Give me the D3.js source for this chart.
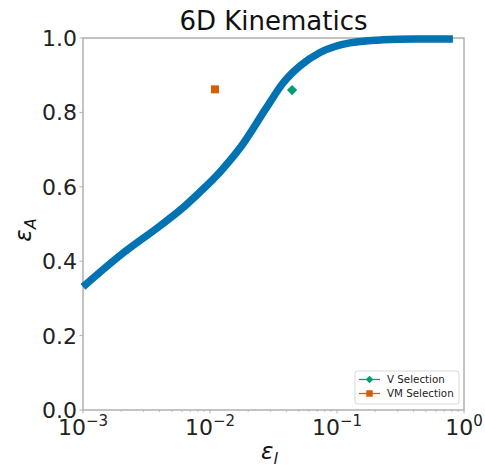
<!DOCTYPE html>
<html>
<head>
<meta charset="utf-8">
<script src="https://cdn.jsdelivr.net/npm/d3@7"></script>
<style>
  body { margin: 0; background: #fff; }
  svg { font-family: "DejaVu Sans", sans-serif; }
</style>
</head>
<body>
<svg id="chart" width="485" height="468"></svg>
<script>
// curve: false-positive rate (eps_l) vs efficiency (eps_A)
const curveX = [0.001, 0.00195, 0.00404, 0.00581, 0.00834, 0.0120,
                0.0172, 0.0281, 0.0376, 0.0512, 0.0735, 0.1265, 0.230, 0.398, 0.818];
const curveY = [0.331, 0.415, 0.495, 0.537, 0.586, 0.640,
                0.704, 0.815, 0.879, 0.925, 0.961, 0.987, 0.995, 0.997, 0.997];

const markerNames = ['V Selection', 'VM Selection'];
const markerX = [0.0443, 0.01094];
const markerY = [0.860, 0.862];
const markerColors = ['#029E73', '#D55E00'];

const yTicks = [0, 0.2, 0.4, 0.6, 0.8, 1.0];
const xTickExps = [-3, -2, -1, 0];

const svg = d3.select('#chart');
const pL = 83, pR = 464, pT = 38, pB = 410;

const x = d3.scaleLog().domain([1e-3, 1]).range([pL, pR]);
const y = d3.scaleLinear().domain([0, 1]).range([pB, pT]);

const frame = '#b0b0b0';

// y ticks
svg.append('g').selectAll('line').data(yTicks).join('line')
    .attr('x1', pL - 3.5).attr('x2', pL)
    .attr('y1', d => y(d)).attr('y2', d => y(d))
    .attr('stroke', frame).attr('stroke-width', 1);
svg.append('g').selectAll('text').data(yTicks).join('text')
    .attr('x', pL - 6).attr('y', d => y(d))
    .attr('dy', '0.36em')
    .attr('text-anchor', 'end')
    .attr('font-size', 22).attr('fill', '#222')
    .text(d => d.toFixed(1));

// x minor + major ticks
const minor = [];
for (let e = -3; e < 0; e++) for (let k = 2; k < 10; k++) minor.push(k * Math.pow(10, e));
svg.append('g').selectAll('line').data(minor).join('line')
    .attr('x1', d => x(d)).attr('x2', d => x(d))
    .attr('y1', pB).attr('y2', pB + 2)
    .attr('stroke', frame).attr('stroke-width', 0.8);
svg.append('g').selectAll('line').data(xTickExps).join('line')
    .attr('x1', d => x(Math.pow(10, d))).attr('x2', d => x(Math.pow(10, d)))
    .attr('y1', pB).attr('y2', pB + 3.5)
    .attr('stroke', frame).attr('stroke-width', 1);

const xl = svg.append('g').selectAll('text').data(xTickExps).join('text')
    .attr('x', d => x(Math.pow(10, d)))
    .attr('y', pB + 25)
    .attr('text-anchor', 'middle')
    .attr('font-size', 22).attr('fill', '#222');
xl.append('tspan').text('10');
xl.append('tspan').attr('dy', -9).attr('font-size', 15)
    .text(d => d < 0 ? '\u2212' + (-d) : String(d));

// frame
svg.append('rect')
    .attr('x', pL).attr('y', pT)
    .attr('width', pR - pL).attr('height', pB - pT)
    .attr('fill', 'none').attr('stroke', frame).attr('stroke-width', 1.5);

// curve
const line = d3.line()
    .x((d, i) => x(curveX[i]))
    .y(d => y(d))
    .curve(d3.curveMonotoneX);
svg.append('path')
    .datum(curveY)
    .attr('d', line)
    .attr('fill', 'none')
    .attr('stroke', '#0173B2')
    .attr('stroke-width', 7.5)
    .attr('stroke-linejoin', 'round');

// markers
svg.append('g').selectAll('path').data(markerNames).join('path')
    .attr('transform', (d, i) => `translate(${x(markerX[i])},${y(markerY[i])})` + (i === 0 ? ' rotate(45)' : ''))
    .attr('d', (d, i) => i === 0 ? d3.symbol(d3.symbolSquare, 52)() : d3.symbol(d3.symbolSquare, 64)())
    .attr('fill', (d, i) => markerColors[i]);

// title and axis labels
svg.append('text')
    .attr('x', (pL + pR) / 2).attr('y', 30)
    .attr('text-anchor', 'middle')
    .attr('font-size', 26).attr('fill', '#111')
    .text('6D Kinematics');

const xlab = svg.append('text')
    .attr('x', (pL + pR) / 2 - 4).attr('y', 459)
    .attr('text-anchor', 'middle')
    .attr('font-size', 23).attr('fill', '#111');
xlab.append('tspan').attr('font-style', 'italic').text('ε');
xlab.append('tspan').attr('dy', 5).attr('font-size', 16).attr('font-style', 'italic').text('l');

const ylab = svg.append('text')
    .attr('transform', `translate(31,${(pT + pB) / 2 + 6}) rotate(-90)`)
    .attr('text-anchor', 'middle')
    .attr('font-size', 23).attr('fill', '#111');
ylab.append('tspan').attr('font-style', 'italic').text('ε');
ylab.append('tspan').attr('dy', 5).attr('font-size', 16).attr('font-style', 'italic').text('A');

// legend
const lg = svg.append('g').attr('transform', 'translate(355,371)');
lg.append('rect')
    .attr('width', 104).attr('height', 33).attr('rx', 2.5)
    .attr('fill', '#fff').attr('fill-opacity', 0.8)
    .attr('stroke', '#d8d8d8').attr('stroke-width', 1);
const rows = lg.selectAll('g.row').data(markerNames).join('g')
    .attr('class', 'row')
    .attr('transform', (d, i) => `translate(0,${8.5 + i * 14})`);
rows.append('line')
    .attr('x1', 4).attr('x2', 25).attr('y1', 0).attr('y2', 0)
    .attr('stroke', (d, i) => markerColors[i]).attr('stroke-width', 1.3);
rows.append('path')
    .attr('transform', (d, i) => `translate(14.5,0)` + (i === 0 ? ' rotate(45)' : ''))
    .attr('d', (d, i) => i === 0 ? d3.symbol(d3.symbolSquare, 30)() : d3.symbol(d3.symbolSquare, 42)())
    .attr('fill', (d, i) => markerColors[i]);
rows.append('text')
    .attr('x', 32).attr('y', 0).attr('dy', '0.35em')
    .attr('font-size', 10.3).attr('fill', '#222')
    .text(d => d);
</script>
</body>
</html>
